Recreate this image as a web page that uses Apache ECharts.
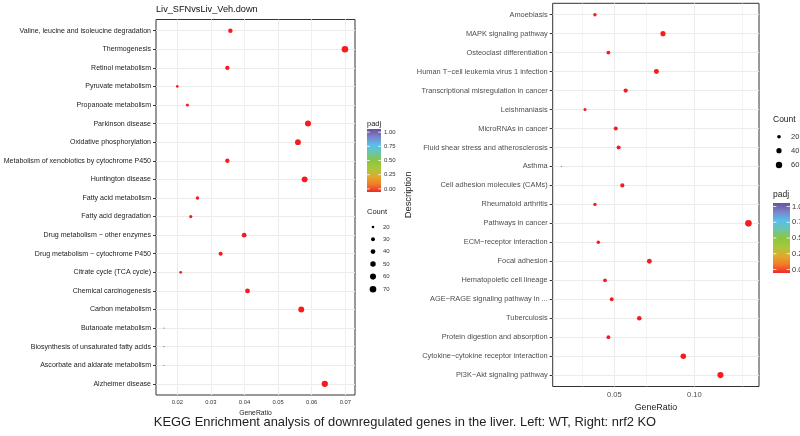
<!DOCTYPE html>
<html><head><meta charset="utf-8">
<script src="https://cdn.jsdelivr.net/npm/echarts@6/dist/echarts.min.js"></script>
<style>html,body{margin:0;padding:0;background:#fff}#c{width:800px;height:436px}</style>
</head><body><div id="c"></div>
<script>
// ---------------- data ----------------
const leftTitle = 'Liv_SFNvsLiv_Veh.down';
const leftCategories = [
  'Valine, leucine and isoleucine degradation','Thermogenesis','Retinol metabolism',
  'Pyruvate metabolism','Propanoate metabolism','Parkinson disease','Oxidative phosphorylation',
  'Metabolism of xenobiotics by cytochrome P450','Huntington disease','Fatty acid metabolism',
  'Fatty acid degradation','Drug metabolism \u2212 other enzymes','Drug metabolism \u2212 cytochrome P450',
  'Citrate cycle (TCA cycle)','Chemical carcinogenesis','Carbon metabolism','Butanoate metabolism',
  'Biosynthesis of unsaturated fatty acids','Ascorbate and aldarate metabolism','Alzheimer disease'];
const leftGeneRatio = [0.0358,0.0699,0.0349,0.0200,0.0230,0.0589,0.0559,0.0349,0.0579,0.0260,
  0.0240,0.0399,0.0329,0.0210,0.0409,0.0569,0.0160,0.0160,0.0160,0.0639];
const leftCount = [36,70,35,20,23,59,56,35,58,26,24,40,33,21,41,57,16,16,16,64];
const leftXTicks = [0.02,0.03,0.04,0.05,0.06,0.07];
const leftXMinor = [0.015,0.025,0.035,0.045,0.055,0.065];
const leftSizeBreaks = [20,30,40,50,60,70];

const rightCategories = [
  'Amoebiasis','MAPK signaling pathway','Osteoclast differentiation',
  'Human T\u2212cell leukemia virus 1 infection','Transcriptional misregulation in cancer',
  'Leishmaniasis','MicroRNAs in cancer','Fluid shear stress and atherosclerosis','Asthma',
  'Cell adhesion molecules (CAMs)','Rheumatoid arthritis','Pathways in cancer',
  'ECM\u2212receptor interaction','Focal adhesion','Hematopoietic cell lineage',
  'AGE\u2212RAGE signaling pathway in ...','Tuberculosis','Protein digestion and absorption',
  'Cytokine\u2212cytokine receptor interaction','PI3K\u2212Akt signaling pathway'];
const rightGeneRatio = [0.0379,0.0804,0.0463,0.0763,0.0571,0.0317,0.0509,0.0527,0.0169,0.0550,
  0.0379,0.1338,0.0400,0.0719,0.0442,0.0484,0.0656,0.0463,0.0931,0.1163];
const rightCount = [18,38,22,36,27,15,24,25,8,26,18,64,19,34,21,23,31,22,44,55];
const rightXTicks = [0.05,0.10];
const rightXMinor = [0.025,0.075,0.125];
const rightSizeBreaks = [20,40,60];

const padjBreaks = [1.00,0.75,0.50,0.25,0.00];
const caption = 'KEGG Enrichment analysis of downregulated genes in the liver. Left: WT, Right: nrf2 KO';

// ---------------- style / layout ----------------
const FONT = 'Liberation Sans, Arial, sans-serif';
const RED = '#f51b1e';
const GRIDC = '#ebebeb';
const L = {left:156, top:19.5, right:355, bottom:395, xmin:0.01366, xmax:0.07289};
const R = {left:552.7, top:3.3, right:759, bottom:386.5, xmin:0.0115, xmax:0.1404};
const padjStops = [
  [0,'#6b4fa2'],[0.13,'#7b86c9'],[0.25,'#55bfee'],[0.38,'#6cc5a8'],
  [0.5,'#8cc540'],[0.63,'#a9c83a'],[0.76,'#e3a82c'],[0.88,'#f27a29'],[1,'#ee2a2a']];

function sizeScale(vals, k){
  const lo = Math.min(...vals), hi = Math.max(...vals);
  return c => k*(1 + 5*Math.sqrt(Math.max(0, c-lo)/(hi-lo)));
}
const leftSize = sizeScale(leftCount, 1.1);
const rightSize = sizeScale(rightCount, 1.1);

function idx(n){ return Array.from({length:n}, (_, i) => i); }

function gridLines(cats, major, minor){
  const d = [];
  cats.forEach((c, i) => d.push({yAxis: i, lineStyle:{color:GRIDC, width:1, type:'solid'}}));
  major.forEach(v => d.push({xAxis: v, lineStyle:{color:GRIDC, width:1, type:'solid'}}));
  minor.forEach(v => d.push({xAxis: v, lineStyle:{color:'#f1f1f1', width:0.7, type:'solid'}}));
  return d;
}

function panel(P, cats, ratio, count, sizeFn, major, minor, gi, opts){
  const grid = {left:P.left, top:P.top, width:P.right-P.left, height:P.bottom-P.top,
    show:true, borderColor:'#333', borderWidth:1, backgroundColor:'#fff', containLabel:false,
    outerBoundsMode:'none'};
  const xAxis = {gridIndex:gi, type:'value', min:P.xmin, max:P.xmax,
    axisLine:{show:false}, splitLine:{show:false},
    axisTick:{show:true, customValues:major, length:3, lineStyle:{color:'#333', width:1}},
    axisLabel:{customValues:major, formatter:v => v.toFixed(2), margin:4,
      fontSize:opts.tickFont, color:opts.tickColor, fontFamily:FONT},
    name:'GeneRatio', nameLocation:'middle', nameGap:opts.xNameGap,
    nameTextStyle:{fontSize:opts.xNameFont, color:'#222', fontFamily:FONT}};
  const yAxis = {gridIndex:gi, type:'value', inverse:true, min:-0.6, max:cats.length-1+0.6,
    axisLine:{show:false}, splitLine:{show:false},
    axisTick:{show:true, customValues:idx(cats.length), length:3, lineStyle:{color:'#333', width:1}},
    axisLabel:{customValues:idx(cats.length), formatter:v => cats[Math.round(v)], margin:5,
      fontSize:opts.catFont, color:opts.catColor, fontFamily:FONT}};
  if (opts.yName){
    Object.assign(yAxis, {name:opts.yName, nameLocation:'middle', nameRotate:90, nameGap:opts.yNameGap,
      nameTextStyle:{fontSize:9.4, color:'#222', fontFamily:FONT}});
  }
  const series = [
    {type:'scatter', xAxisIndex:gi, yAxisIndex:gi, data:[], z:1, silent:true,
      markLine:{silent:true, z:1, symbol:['none','none'], animation:false,
        lineStyle:{type:'solid', color:GRIDC, width:1},
        label:{show:false}, emphasis:{disabled:true}, data:gridLines(cats, major, minor)}},
    {type:'scatter', xAxisIndex:gi, yAxisIndex:gi, z:3,
      data: ratio.map((r, i) => [r, i, count[i]]),
      symbolSize: (v) => sizeFn(v[2]),
      itemStyle:{color:RED, opacity:1}}
  ];
  return {grid, xAxis, yAxis, series};
}

const pl = panel(L, leftCategories, leftGeneRatio, leftCount, leftSize, leftXTicks, leftXMinor, 0,
  {tickFont:5.8, tickColor:'#333', xNameGap:12, xNameFont:6.8, catFont:7.05, catColor:'#222'});
const pr = panel(R, rightCategories, rightGeneRatio, rightCount, rightSize, rightXTicks, rightXMinor, 1,
  {tickFont:7.6, tickColor:'#4d4d4d', xNameGap:7.5, xNameFont:8.9, catFont:7.4, catColor:'#4d4d4d',
   yName:'Description', yNameGap:130});

// ---------------- legends (graphic) ----------------
const g = [];
function colorbar(x, y, w, h, labelX, labelFont, titleY, titleFont){
  g.push({type:'text', left:x, top:titleY, style:{text:'padj', fontSize:titleFont, fill:'#222', fontFamily:FONT}});
  g.push({type:'rect', shape:{x:x, y:y, width:w, height:h},
    style:{fill:{type:'linear', x:0, y:0, x2:0, y2:1,
      colorStops:padjStops.map(s => ({offset:s[0], color:s[1]}))}}});
  const pad = h*0.05;
  padjBreaks.forEach(v => {
    const yy = y + pad + (1-v)*(h-2*pad);
    g.push({type:'line', shape:{x1:x, y1:yy, x2:x+w*0.2, y2:yy}, style:{stroke:'#fff', lineWidth:0.8}});
    g.push({type:'line', shape:{x1:x+w*0.8, y1:yy, x2:x+w, y2:yy}, style:{stroke:'#fff', lineWidth:0.8}});
    g.push({type:'text', x:labelX, y:yy, style:{text:v.toFixed(2), fontSize:labelFont, fill:'#333',
      fontFamily:FONT, verticalAlign:'middle', align:'left'}});
  });
}
function sizeLegend(x, titleY, titleFont, ys, breaks, sizeFn, labelX, labelFont){
  g.push({type:'text', left:x, top:titleY, style:{text:'Count', fontSize:titleFont, fill:'#222', fontFamily:FONT}});
  breaks.forEach((b, i) => {
    g.push({type:'circle', shape:{cx:x+6, cy:ys[i], r:sizeFn(b)/2}, style:{fill:'#000'}});
    g.push({type:'text', x:labelX, y:ys[i], style:{text:String(b), fontSize:labelFont, fill:'#333',
      fontFamily:FONT, verticalAlign:'middle', align:'left'}});
  });
}
colorbar(367, 129, 14, 63, 384, 6, 119.5, 7.5);
sizeLegend(367, 208, 7.5, [227,239.3,251.6,264,276.6,289.2], leftSizeBreaks, leftSize, 383, 6);
sizeLegend(773, 115.5, 8.5, [136.7,150.7,165], rightSizeBreaks, rightSize, 791, 7.5);
colorbar(773, 203, 17, 70, 792, 7.5, 190.5, 8.5);

g.push({type:'text', left:156, top:4.5, style:{text:leftTitle, fontSize:9.2, fill:'#111', fontFamily:FONT}});
g.push({type:'text', x:405, y:422, style:{text:caption, fontSize:12.9, fill:'#222', fontFamily:FONT,
  align:'center', verticalAlign:'middle'}});

const chart = echarts.init(document.getElementById('c'), null, {renderer:'canvas'});
chart.setOption({
  animation:false,
  backgroundColor:'#fff',
  grid:[pl.grid, pr.grid],
  xAxis:[pl.xAxis, pr.xAxis],
  yAxis:[pl.yAxis, pr.yAxis],
  series:[...pl.series, ...pr.series],
  graphic:g
});
</script></body></html>
